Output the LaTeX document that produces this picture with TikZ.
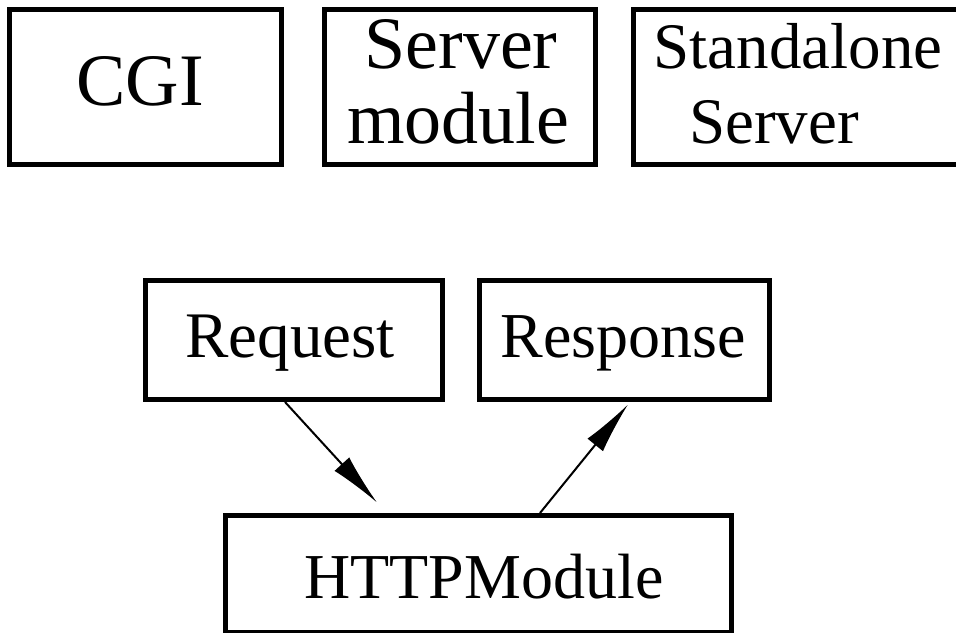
\documentclass[tikz,border=0pt]{standalone}
\usepackage{fontspec}
\setmainfont{Liberation Serif}
\usetikzlibrary{arrows.meta}
\begin{document}
\begin{tikzpicture}[x=1pt,y=-1pt,
  box/.style={draw=black,line width=5pt,rectangle,inner sep=0pt},
  lbl/.style={anchor=base,inner sep=0pt,text=black},
  flow/.style={draw=black,line width=2pt,-{Latex[length=52pt,width=20pt]}}]
  % page frame, content outside it is cut off
  \useasboundingbox (0,0) rectangle (956,632);
  \clip (0,0) rectangle (956,632);

  % upper row: hosting variants
  \node[box,minimum width=272pt,minimum height=155pt] (cgi) at (145.5,87) {};
  \node[box,minimum width=271pt,minimum height=155pt] (srvmod) at (460,87) {};
  \node[box,minimum width=342pt,minimum height=155pt] (standalone) at (804.5,87) {};

  \node[lbl,font=\fontsize{74}{74}\selectfont] (cgitext) at (140,105) {CGI};
  \node[lbl,font=\fontsize{74}{74}\selectfont] (srvmodtext1) at (461,68) {Server};
  \node[lbl,font=\fontsize{74}{74}\selectfont] (srvmodtext2) at (458,143) {module};
  \node[lbl,font=\fontsize{65}{65}\selectfont] (sttext1) at (798,68) {Standalone};
  \node[lbl,font=\fontsize{65}{65}\selectfont] (sttext2) at (774,143) {Server};

  % lower part: request/response around the module
  \node[box,minimum width=297pt,minimum height=119pt] (req) at (294,340) {};
  \node[box,minimum width=290pt,minimum height=119pt] (resp) at (624.5,340) {};
  \node[box,minimum width=506pt,minimum height=116.5pt] (http) at (478.5,573.75) {};

  \node[lbl,font=\fontsize{65}{65}\selectfont] (reqtext) at (290,357) {Request};
  \node[lbl,font=\fontsize{64}{64}\selectfont] (resptext) at (623,357) {Response};
  \node[lbl,font=\fontsize{64}{64}\selectfont] (httptext) at (484,598) {HTTPModule};

  % connectors
  \draw[flow] ([xshift=-9pt]req.south) -- ([xshift=-101.5pt,yshift=10.5pt]http.north);
  \draw[flow] ([xshift=61.5pt]http.north) -- ([xshift=3.5pt,yshift=-2.5pt]resp.south);
\end{tikzpicture}
\end{document}
